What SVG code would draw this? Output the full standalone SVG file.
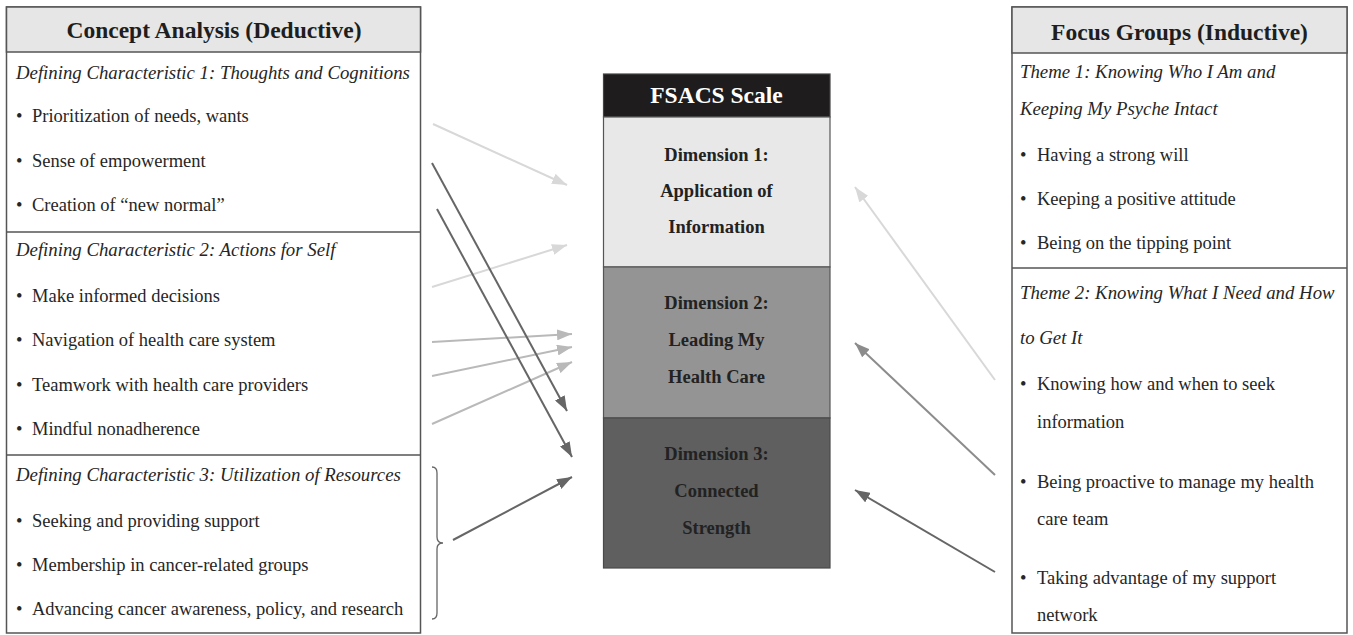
<svg xmlns="http://www.w3.org/2000/svg" width="1353" height="635" viewBox="0 0 1353 635">
  <style>
    .panel { fill: #ffffff; stroke: #555555; stroke-width: 1.5; }
    .hdr { fill: #e6e6e6; stroke: #555555; stroke-width: 1.5; }
    .div { stroke: #555555; stroke-width: 1.5; }
    .t { font-family: "Liberation Serif", "Times New Roman", serif; font-size: 18.5px; fill: #262626; }
    .it { font-style: italic; font-size: 18.8px; }
    .h { font-family: "Liberation Serif", "Times New Roman", serif; font-size: 23.5px; font-weight: bold; fill: #1e1e1e; text-anchor: middle; }
    .dim { font-family: "Liberation Serif", "Times New Roman", serif; font-size: 18.5px; font-weight: bold; fill: #222222; text-anchor: middle; }
    .c1 { stroke: #d8d8d8; }
    .c2 { stroke: #b9b9b9; }
    .c3 { stroke: #8c8c8c; }
    .c4 { stroke: #666666; }
    #connectors line { stroke-width: 2; fill: none; }
  </style>
  <defs>
    <marker id="ah1" markerUnits="userSpaceOnUse" markerWidth="15" markerHeight="11" refX="15" refY="5.5" orient="auto">
      <path d="M0,0 L15,5.5 L0,11 z" fill="#d8d8d8"/>
    </marker>
    <marker id="ah2" markerUnits="userSpaceOnUse" markerWidth="15" markerHeight="11" refX="15" refY="5.5" orient="auto">
      <path d="M0,0 L15,5.5 L0,11 z" fill="#b9b9b9"/>
    </marker>
    <marker id="ah3" markerUnits="userSpaceOnUse" markerWidth="15" markerHeight="11" refX="15" refY="5.5" orient="auto">
      <path d="M0,0 L15,5.5 L0,11 z" fill="#8c8c8c"/>
    </marker>
    <marker id="ah4" markerUnits="userSpaceOnUse" markerWidth="15" markerHeight="11" refX="15" refY="5.5" orient="auto">
      <path d="M0,0 L15,5.5 L0,11 z" fill="#666666"/>
    </marker>
  </defs>

  <rect width="1353" height="635" fill="#ffffff"/>

  <!-- Left panel: concept analysis -->
  <g id="concept-analysis">
    <rect class="panel" x="6.5" y="7" width="414" height="626"/>
    <rect class="hdr" x="6.5" y="7" width="414" height="45"/>
    <text class="h" x="214" y="38">Concept Analysis (Deductive)</text>
    <line class="div" x1="6.5" y1="232" x2="420.5" y2="232"/>
    <line class="div" x1="6.5" y1="455" x2="420.5" y2="455"/>

    <text class="t it" x="16" y="79">Defining Characteristic 1: Thoughts and Cognitions</text>
    <text class="t"><tspan x="16" y="122">•</tspan><tspan x="32" y="122">Prioritization of needs, wants</tspan></text>
    <text class="t"><tspan x="16" y="167">•</tspan><tspan x="32" y="167">Sense of empowerment</tspan></text>
    <text class="t"><tspan x="16" y="211">•</tspan><tspan x="32" y="211">Creation of “new normal”</tspan></text>

    <text class="t it" x="16" y="256">Defining Characteristic 2: Actions for Self</text>
    <text class="t"><tspan x="16" y="302">•</tspan><tspan x="32" y="302">Make informed decisions</tspan></text>
    <text class="t"><tspan x="16" y="346">•</tspan><tspan x="32" y="346">Navigation of health care system</tspan></text>
    <text class="t"><tspan x="16" y="391">•</tspan><tspan x="32" y="391">Teamwork with health care providers</tspan></text>
    <text class="t"><tspan x="16" y="435">•</tspan><tspan x="32" y="435">Mindful nonadherence</tspan></text>

    <text class="t it" x="16" y="481">Defining Characteristic 3: Utilization of Resources</text>
    <text class="t"><tspan x="16" y="527">•</tspan><tspan x="32" y="527">Seeking and providing support</tspan></text>
    <text class="t"><tspan x="16" y="571">•</tspan><tspan x="32" y="571">Membership in cancer-related groups</tspan></text>
    <text class="t"><tspan x="16" y="615">•</tspan><tspan x="32" y="615">Advancing cancer awareness, policy, and research</tspan></text>
  </g>

  <!-- Brace grouping the resource items -->
  <g id="resources-brace">
    <path d="M432,467 Q437,467 437,473 L437,537 Q437,543 443,543 Q437,543 437,549 L437,613 Q437,619 432,619" fill="none" stroke="#666666" stroke-width="1.3"/>
  </g>

  <!-- Centre: FSACS scale -->
  <g id="fsacs-scale">
    <rect x="603.5" y="74" width="226.5" height="43" fill="#1f1c1d" stroke="#444444" stroke-width="1.2"/>
    <text class="h" x="716.5" y="103" style="fill:#ffffff">FSACS Scale</text>
  </g>
  <g id="dimension-1">
    <rect x="603.5" y="117" width="226.5" height="150" fill="#e8e8e8" stroke="#555555" stroke-width="1.2"/>
    <text class="dim" x="716.5" y="161">Dimension 1:</text>
    <text class="dim" x="716.5" y="197">Application of</text>
    <text class="dim" x="716.5" y="233">Information</text>
  </g>
  <g id="dimension-2">
    <rect x="603.5" y="267" width="226.5" height="151" fill="#949494" stroke="#555555" stroke-width="1.2"/>
    <text class="dim" x="716.5" y="309">Dimension 2:</text>
    <text class="dim" x="716.5" y="346">Leading My</text>
    <text class="dim" x="716.5" y="383">Health Care</text>
  </g>
  <g id="dimension-3">
    <rect x="603.5" y="418" width="226.5" height="150" fill="#5f5f5f" stroke="#4a4a4a" stroke-width="1.2"/>
    <text class="dim" x="716.5" y="460">Dimension 3:</text>
    <text class="dim" x="716.5" y="497">Connected</text>
    <text class="dim" x="716.5" y="534">Strength</text>
  </g>

  <!-- Right panel: focus groups -->
  <g id="focus-groups">
    <rect class="panel" x="1012" y="7" width="335" height="626"/>
    <rect class="hdr" x="1012" y="7" width="335" height="46"/>
    <text class="h" x="1179.5" y="40">Focus Groups (Inductive)</text>
    <line class="div" x1="1012" y1="268" x2="1347" y2="268"/>

    <text class="t it" x="1020" y="78">Theme 1: Knowing Who I Am and</text>
    <text class="t it" x="1020" y="115">Keeping My Psyche Intact</text>
    <text class="t"><tspan x="1020" y="161">•</tspan><tspan x="1037" y="161">Having a strong will</tspan></text>
    <text class="t"><tspan x="1020" y="205">•</tspan><tspan x="1037" y="205">Keeping a positive attitude</tspan></text>
    <text class="t"><tspan x="1020" y="249">•</tspan><tspan x="1037" y="249">Being on the tipping point</tspan></text>

    <text class="t it" x="1020" y="299">Theme 2: Knowing What I Need and How</text>
    <text class="t it" x="1020" y="344">to Get It</text>
    <text class="t"><tspan x="1020" y="390">•</tspan><tspan x="1037" y="390">Knowing how and when to seek</tspan></text>
    <text class="t" x="1037" y="428">information</text>
    <text class="t"><tspan x="1020" y="488">•</tspan><tspan x="1037" y="488">Being proactive to manage my health</tspan></text>
    <text class="t" x="1037" y="525">care team</text>
    <text class="t"><tspan x="1020" y="584">•</tspan><tspan x="1037" y="584">Taking advantage of my support</tspan></text>
    <text class="t" x="1037" y="621">network</text>
  </g>

  <!-- Connectors -->
  <g id="connectors">
    <line class="c1" x1="433" y1="124" x2="567" y2="185" marker-end="url(#ah1)"/>
    <line class="c1" x1="432" y1="287" x2="567" y2="245" marker-end="url(#ah1)"/>
    <line class="c2" x1="432" y1="342" x2="572" y2="334" marker-end="url(#ah2)"/>
    <line class="c2" x1="432" y1="376" x2="572" y2="347" marker-end="url(#ah2)"/>
    <line class="c2" x1="432" y1="424" x2="572" y2="362" marker-end="url(#ah2)"/>
    <line class="c4" x1="432" y1="163" x2="567" y2="411" marker-end="url(#ah4)"/>
    <line class="c4" x1="437" y1="209" x2="572" y2="457" marker-end="url(#ah4)"/>
    <line class="c4" x1="453" y1="540" x2="572" y2="477" marker-end="url(#ah4)"/>
    <line class="c1" x1="995" y1="380" x2="855" y2="187" marker-end="url(#ah1)"/>
    <line class="c3" x1="995" y1="475" x2="855" y2="343" marker-end="url(#ah3)"/>
    <line class="c4" x1="995" y1="572" x2="855" y2="490" marker-end="url(#ah4)"/>
  </g>
</svg>
